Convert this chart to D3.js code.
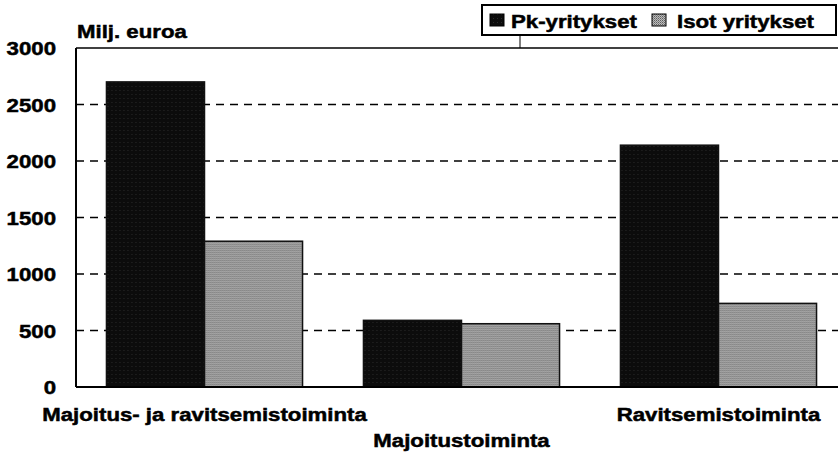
<!DOCTYPE html>
<html>
<head>
<meta charset="utf-8">
<script src="https://cdn.jsdelivr.net/npm/d3@7"></script>
<style>
  html, body { margin: 0; padding: 0; background: #fff; }
  svg { display: block; }
  text { font-family: "Liberation Sans", Arial, sans-serif; font-weight: bold; fill: #000; stroke: #000; stroke-width: 0.5px; }
</style>
</head>
<body>
<svg width="838" height="453"></svg>
<script>
// chart data
const categories = ['Majoitus- ja ravitsemistoiminta', 'Majoitustoiminta', 'Ravitsemistoiminta'];
const seriesNames = ['Pk-yritykset', 'Isot yritykset'];
const pkValues = [2700, 590, 2140];
const isotValues = [1290, 560, 740];
const yTicks = [0, 500, 1000, 1500, 2000, 2500, 3000];

const stretch = 1.17; // scanned font is wider than Arial

const svg = d3.select('svg');
const margin = {left: 76, right: -9, top: 48, bottom: 66};
const width = 838 - margin.left - margin.right;
const height = 453 - margin.top - margin.bottom;

// draw a wide text at x,y
function wideText(sel, x, y, size, anchor, str) {
  return sel.append('text')
    .attr('transform', `translate(${x},${y}) scale(${stretch},1)`)
    .attr('text-anchor', anchor)
    .attr('font-size', size)
    .text(str);
}

// patterns to fake the scanned look
const defs = svg.append('defs');
const pkPat = defs.append('pattern').attr('id', 'pk').attr('patternUnits', 'userSpaceOnUse')
  .attr('width', 4).attr('height', 4);
pkPat.append('rect').attr('width', 4).attr('height', 4).attr('fill', '#0c0c0c');
pkPat.append('rect').attr('x', 1).attr('y', 2).attr('width', 1).attr('height', 1).attr('fill', '#2a2a2a');
const isotPat = defs.append('pattern').attr('id', 'isot').attr('patternUnits', 'userSpaceOnUse')
  .attr('width', 2).attr('height', 2);
isotPat.append('rect').attr('width', 2).attr('height', 2).attr('fill', '#bcbcbc');
isotPat.append('rect').attr('width', 1).attr('height', 1).attr('fill', '#5e5e5e');
isotPat.append('rect').attr('x', 1).attr('y', 1).attr('width', 1).attr('height', 1).attr('fill', '#848484');

const g = svg.append('g').attr('transform', `translate(${margin.left},${margin.top})`);

const x0 = d3.scaleBand().domain(categories).range([0, width]).paddingInner(0.237).paddingOuter(0.1185);
const x1 = d3.scaleBand().domain(seriesNames).range([0, x0.bandwidth()]);
const y = d3.scaleLinear().domain([0, 3000]).range([height, 0]);

// dashed gridlines
g.append('g')
  .selectAll('line')
  .data(yTicks.filter(t => t > 0 && t < 3000))
  .enter()
  .append('line')
  .attr('x1', 0).attr('x2', width)
  .attr('y1', d => y(d)).attr('y2', d => y(d))
  .attr('stroke', '#000').attr('stroke-width', 1.3)
  .attr('stroke-dasharray', '8,6');

// bars
const rows = categories.map((c, i) => ({cat: c, vals: [pkValues[i], isotValues[i]]}));
const groups = g.append('g')
  .selectAll('g')
  .data(rows)
  .enter()
  .append('g')
  .attr('transform', d => `translate(${x0(d.cat)},0)`);
groups.selectAll('rect')
  .data(d => d.vals.map((v, j) => ({name: seriesNames[j], v: v})))
  .enter()
  .append('rect')
  .attr('x', d => x1(d.name))
  .attr('y', d => y(d.v))
  .attr('width', x1.bandwidth())
  .attr('height', d => height - y(d.v))
  .attr('fill', d => d.name === 'Pk-yritykset' ? 'url(#pk)' : 'url(#isot)')
  .attr('stroke', '#111').attr('stroke-width', 1.5);

// frame: left, top, bottom
g.append('line').attr('x1', 0).attr('x2', 0).attr('y1', 0).attr('y2', height)
  .attr('stroke', '#000').attr('stroke-width', 2);
g.append('line').attr('x1', 0).attr('x2', width).attr('y1', 0).attr('y2', 0)
  .attr('stroke', '#000').attr('stroke-width', 1.5);
g.append('line').attr('x1', 0).attr('x2', width).attr('y1', height).attr('y2', height)
  .attr('stroke', '#000').attr('stroke-width', 2);

// y axis labels
const yAxis = d3.axisLeft(y).tickValues(yTicks).tickSize(0).tickPadding(0).tickFormat(d3.format('d'));
const ya = g.append('g').call(yAxis);
ya.select('.domain').remove();
ya.selectAll('text')
  .attr('x', null).attr('dy', '0.36em')
  .attr('transform', `translate(-20,0) scale(${stretch},1)`)
  .attr('font-size', 19)
  .attr('font-family', '"Liberation Sans", Arial, sans-serif')
  .attr('font-weight', 'bold')
  .attr('fill', '#000');

// category labels, middle one staggered down
categories.forEach((c, i) => {
  wideText(g, x0(c) + x0.bandwidth() / 2, height + (i === 1 ? 60 : 34), 19, 'middle', c);
});

// unit title
wideText(svg, 77, 38, 19, 'start', 'Milj. euroa');

// legend
const leg = svg.append('g');
leg.append('rect').attr('x', 482).attr('y', 5).attr('width', 354).attr('height', 30)
  .attr('fill', '#fff').attr('stroke', '#000').attr('stroke-width', 2);
leg.append('line').attr('x1', 520).attr('x2', 520).attr('y1', 35).attr('y2', 48)
  .attr('stroke', '#000').attr('stroke-width', 1);
const legX = [490, 652];
seriesNames.forEach((n, i) => {
  leg.append('rect').attr('x', legX[i]).attr('y', 14).attr('width', 14).attr('height', 12)
    .attr('fill', i === 0 ? 'url(#pk)' : 'url(#isot)').attr('stroke', '#000').attr('stroke-width', 1);
  wideText(leg, legX[i] + 21 + (i === 1 ? 4 : 0), 28, 19, 'start', n);
});
</script>
</body>
</html>
